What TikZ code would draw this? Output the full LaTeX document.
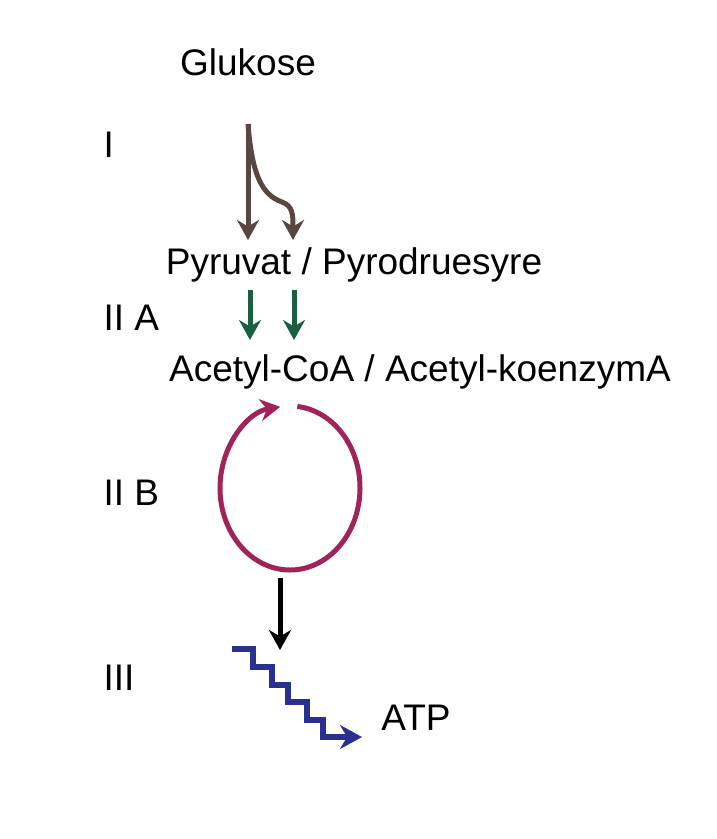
\documentclass[tikz,border=0pt]{standalone}
\usepackage{fontspec}
\setmainfont{Liberation Sans}
\usetikzlibrary{arrows.meta}
\definecolor{brun}{HTML}{5A4640}
\definecolor{gronn}{HTML}{1A6040}
\definecolor{lilla}{HTML}{A0245A}
\definecolor{blaa}{HTML}{2A3090}
\begin{document}
\begin{tikzpicture}[x=1pt,y=-1pt,
  lbl/.style={font=\fontsize{37}{42}\selectfont},
  trinn/.style={lbl,anchor=west},
  pil/.style={line width=5pt,-{Stealth[length=20pt,width=22pt]}}]
\useasboundingbox (0,0) rectangle (717,839);

\node[lbl] (glukose) at (248,62) {Glukose};
\node[lbl] (pyruvat) at (354,265) {Pyruvat / Pyrodruesyre};
\node[lbl] (acetyl) at (420,372) {Acetyl-CoA / Acetyl-koenzymA};
\node[lbl] (atp) at (416,718) {ATP};

\node[trinn] (I) at (100,145) {I};
\node[trinn] (IIA) at (100,318) {II A};
\node[trinn] (IIB) at (100,493) {II B};
\node[trinn] (III) at (100,678) {III};

% glykolyse
\coordinate (g0) at (248,124);
\draw[pil,brun] (g0) -- (248,240);
\draw[pil,brun] (g0) .. controls (252,175) and (262,195) .. (282,202)
  .. controls (293,206) and (293,215) .. (293,240);

% pyruvat til acetyl-CoA
\draw[pil,gronn] (250,290) -- (250,340);
\draw[pil,gronn] (294,290) -- (294,340);

% sitronsyresyklus
\draw[pil,lilla] (290,488) ++(-84:70 and 82) arc (-84:262:70 and 82);

% elektrontransport
\draw[pil,black] (280,578) -- (280,650);
\draw[line width=6pt,blaa,-{Stealth[length=22pt,width=24pt]}]
  (232,649) -- (253,649) -- (253,667) -- (272,667) -- (272,685)
  -- (288,685) -- (288,702) -- (307,702) -- (307,720) -- (323,720)
  -- (323,737) -- (362,737);
\end{tikzpicture}
\end{document}
